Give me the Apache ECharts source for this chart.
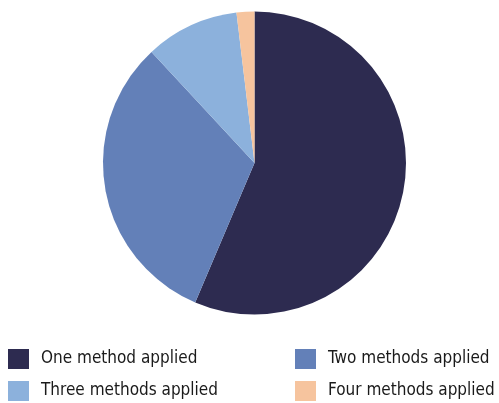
<!DOCTYPE html>
<html><head><meta charset="utf-8">
<script src="https://cdn.jsdelivr.net/npm/echarts@6/dist/echarts.min.js"></script>
<style>html,body{margin:0;padding:0;background:#fff}#c{width:499px;height:403px}</style>
</head><body><div id="c"></div>
<script>
const categories = ["One method applied", "Two methods applied", "Three methods applied", "Four methods applied"];
const values = [56.4, 31.7, 10.0, 1.9];
const colors = ["#2d2b50", "#6380b8", "#8cb1dc", "#f6c49e"];

const chart = echarts.init(document.getElementById('c'));
const font = "'DejaVu Sans Condensed', 'Liberation Sans', sans-serif";
const legendPos = [[8, 349], [295, 349], [8, 381], [295, 381]];
function makeLegend(i) {
  return {
    orient: 'horizontal',
    left: legendPos[i][0],
    top: legendPos[i][1],
    padding: 0,
    itemWidth: 21,
    itemHeight: 20,
    icon: 'rect',
    selectedMode: false,
    data: [categories[i]],
    textStyle: { fontFamily: font, fontSize: 17, color: '#1a1a1a', padding: [0, 0, 0, 7] }
  };
}
chart.setOption({
  animation: false,
  color: colors,
  legend: categories.map((_, i) => makeLegend(i)),
  series: [{
    type: 'pie',
    center: [254.5, 163],
    radius: [0, 151.5],
    startAngle: 90,
    clockwise: true,
    label: { show: false },
    labelLine: { show: false },
    itemStyle: { borderWidth: 0 },
    emphasis: { disabled: true },
    data: categories.map((n, i) => ({ name: n, value: values[i] }))
  }]
});
</script></body></html>
